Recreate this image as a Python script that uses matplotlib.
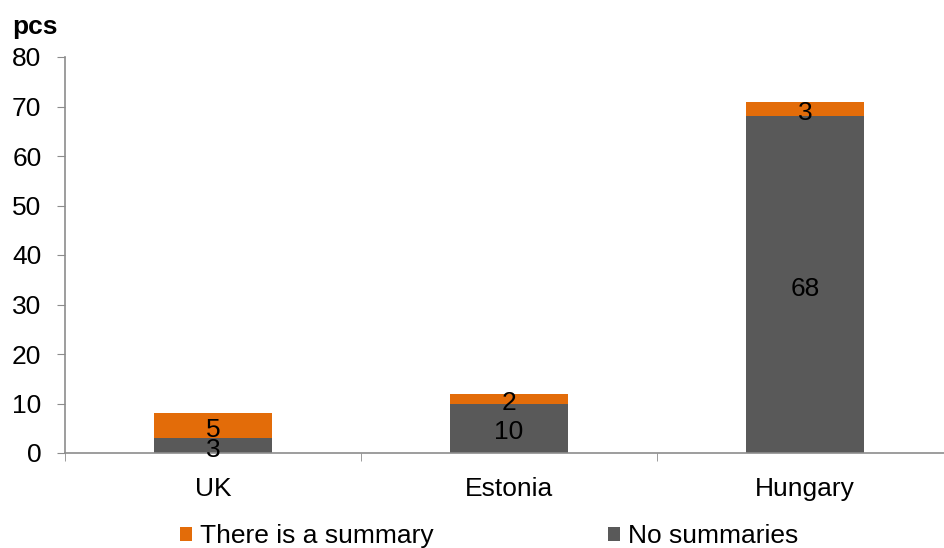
import matplotlib.pyplot as plt
import numpy as np

plt.rcParams['font.family'] = ['Liberation Sans', 'DejaVu Sans']

countries = ['UK', 'Estonia', 'Hungary']
no_summaries = [3, 10, 68]
has_summary = [5, 2, 3]

orange = '#E36C09'
grey = '#595959'
axis_grey = '#8C8C8C'
fs = 19

fig = plt.figure(figsize=(9.44, 5.48), dpi=100)
ax = fig.add_axes([65 / 944, 95 / 548, 888 / 944, 396 / 548])

x = np.arange(len(countries))
b1 = ax.bar(x, no_summaries, width=0.4, color=grey, label='No summaries')
b2 = ax.bar(x, has_summary, width=0.4, bottom=no_summaries, color=orange,
            label='There is a summary')

# value labels in the middle of each segment
for xi, lo, hi in zip(x, no_summaries, has_summary):
    ax.annotate(str(lo), (xi, lo / 2), xytext=(0, -3), textcoords='offset points',
                ha='center', va='center', fontsize=fs)
    ax.annotate(str(hi), (xi, lo + hi / 2), xytext=(0, -3), textcoords='offset points',
                ha='center', va='center', fontsize=fs)

ax.set_xlim(-0.5, 2.5)
ax.set_ylim(0, 80)
ax.set_yticks(range(0, 81, 10))
ax.set_xticks(x)
ax.set_xticklabels(countries)
ax.set_xticks(np.arange(-0.5, 3, 1), minor=True)
ax.tick_params(axis='x', which='major', length=0, pad=17, labelsize=fs)
ax.tick_params(axis='x', which='minor', length=6, color=axis_grey)
ax.tick_params(axis='y', length=6, color=axis_grey, labelsize=fs, pad=11)

for s in ['top', 'right']:
    ax.spines[s].set_visible(False)
for s in ['left', 'bottom']:
    ax.spines[s].set_color(axis_grey)
    ax.spines[s].set_linewidth(1.2)

fig.text(12 / 944, 1 - 27 / 548, 'pcs', fontsize=fs, fontweight='bold',
         va='center', ha='left')

handles = [b2, b1]
fig.legend(handles, [h.get_label() for h in handles], loc='center',
           bbox_to_anchor=(0.518, 1 - 536 / 548), ncol=2, frameon=False,
           fontsize=fs, handlelength=0.45, handleheight=0.45, handletextpad=0.3,
           columnspacing=6.6, borderpad=0)

fig.savefig('out.png', dpi=100)
